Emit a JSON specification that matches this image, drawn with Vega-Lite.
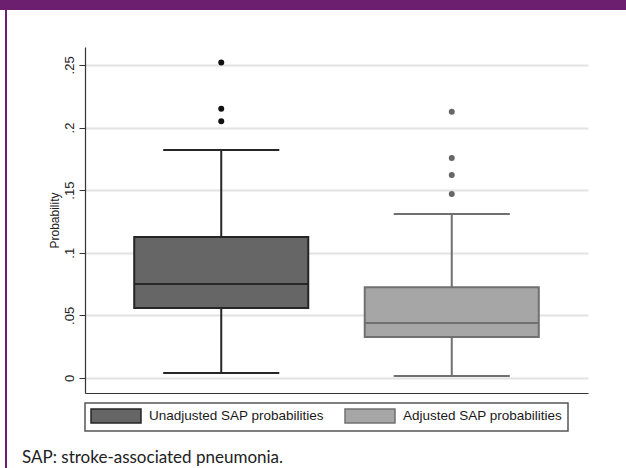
{
  "$schema": "https://vega.github.io/schema/vega-lite/v6.json",
  "padding": 0,
  "background": "white",
  "spacing": 0,
  "config": {
    "view": {"stroke": null},
    "font": "Liberation Sans",
    "legend": {"strokeColor": "#555555", "strokeWidth": 1.5, "padding": 5}
  },
  "title": {"text": "SAP:  stroke-associated pneumonia.", "orient": "bottom", "anchor": "start", "frame": "group", "font": "Lato", "fontSize": 17, "fontWeight": "normal", "color": "#222222", "offset": -18, "dx": 22},
  "datasets": {
    "boxes": [
      {"group": "Unadjusted SAP probabilities", "lower": 0.004, "q1": 0.0559, "median": 0.0751, "q3": 0.1126, "upper": 0.182},
      {"group": "Adjusted SAP probabilities", "lower": 0.0016, "q1": 0.0328, "median": 0.0438, "q3": 0.0725, "upper": 0.131}
    ],
    "outliers": [
      {"group": "Unadjusted SAP probabilities", "value": 0.252},
      {"group": "Unadjusted SAP probabilities", "value": 0.215},
      {"group": "Unadjusted SAP probabilities", "value": 0.205},
      {"group": "Adjusted SAP probabilities", "value": 0.2125},
      {"group": "Adjusted SAP probabilities", "value": 0.1757},
      {"group": "Adjusted SAP probabilities", "value": 0.162},
      {"group": "Adjusted SAP probabilities", "value": 0.147}
    ]
  },
  "resolve": {"scale": {"fill": "independent", "stroke": "independent"}, "legend": {"fill": "independent", "stroke": "independent"}},
  "vconcat": [
    {"width": 626, "height": 10, "view": {"fill": "#6b1f6e", "stroke": null}, "data": {"values": []}, "mark": "point", "encoding": {}},
    {
      "spacing": 0,
      "resolve": {"scale": {"fill": "independent", "stroke": "independent"}, "legend": {"fill": "independent", "stroke": "independent"}},
      "hconcat": [
        {"width": 5, "height": 10, "data": {"values": []}, "mark": "point", "encoding": {}},
        {
          "spacing": 41,
          "resolve": {"scale": {"fill": "independent", "stroke": "independent"}, "legend": {"fill": "independent", "stroke": "independent"}},
          "hconcat": [
            {"width": 2, "height": 458, "view": {"fill": "#6b1f6e", "stroke": null}, "data": {"values": []}, "mark": "point", "encoding": {}},
            {
              "spacing": 0,
              "resolve": {"scale": {"fill": "independent", "stroke": "independent"}, "legend": {"fill": "independent", "stroke": "independent"}},
              "vconcat": [
                {"width": 10, "height": 37, "data": {"values": []}, "mark": "point", "encoding": {}},
                {
                  "width": 503,
                  "height": 346,
                  "encoding": {
                    "x": {
                      "field": "group", "type": "nominal", "sort": null,
                      "scale": {"domain": ["Unadjusted SAP probabilities", "Adjusted SAP probabilities"], "paddingInner": 0.245, "paddingOuter": 0.2135},
                      "axis": {"labels": false, "ticks": false, "title": null, "grid": false, "domainColor": "#333333", "domainWidth": 1.2}
                    }
                  },
                  "layer": [
                    {
                      "data": {"name": "boxes"},
                      "mark": {"type": "rule", "strokeWidth": 2},
                      "encoding": {
                        "y": {
                          "field": "lower", "type": "quantitative",
                          "scale": {"domain": [-0.012, 0.2643], "nice": false, "zero": false},
                          "axis": {
                            "title": "Probability",
                            "values": [0, 0.05, 0.1, 0.15, 0.2, 0.25],
                            "labelExpr": "datum.value == 0 ? '0' : replace(format(datum.value, '.2~f'), '0.', '.')",
                            "labelAngle": -90, "labelAlign": "center", "labelBaseline": "bottom",
                            "labelFontSize": 13, "labelColor": "#222222", "labelPadding": 3,
                            "tickSize": 6, "tickColor": "#333333", "domainColor": "#333333", "domainWidth": 1.2,
                            "grid": true, "gridColor": "#e2e2e2", "gridWidth": 2,
                            "titleFontSize": 12, "titleFontWeight": "normal", "titleColor": "#222222", "titlePadding": 2
                          }
                        },
                        "y2": {"field": "upper"},
                        "stroke": {"field": "group", "type": "nominal", "scale": {"domain": ["Unadjusted SAP probabilities", "Adjusted SAP probabilities"], "range": ["#262626", "#707070"]}}
                      }
                    },
                    {
                      "data": {"name": "boxes"},
                      "mark": {"type": "bar", "strokeWidth": 2},
                      "encoding": {
                        "y": {"field": "q1", "type": "quantitative"},
                        "y2": {"field": "q3"},
                        "fill": {
                          "field": "group", "type": "nominal",
                          "scale": {"domain": ["Unadjusted SAP probabilities", "Adjusted SAP probabilities"], "range": ["#666666", "#a6a6a6"]},
                          "legend": {"title": null, "orient": "bottom", "direction": "horizontal", "offset": 10, "symbolType": "M-1,-1H6.1429V1H-1Z", "symbolSize": 196, "symbolStrokeWidth": 1.5, "labelFont": "Liberation Sans", "labelFontSize": 13.5, "labelColor": "#1a1a1a", "labelOffset": 43, "columnPadding": 18, "labelLimit": 400}
                        },
                        "stroke": {"field": "group", "type": "nominal"}
                      }
                    },
                    {
                      "data": {"name": "boxes"},
                      "mark": {"type": "bar", "strokeWidth": 2, "fillOpacity": 0},
                      "encoding": {
                        "y": {"field": "median", "type": "quantitative"},
                        "y2": {"field": "median"},
                        "stroke": {"field": "group", "type": "nominal"}
                      }
                    },
                    {
                      "data": {"name": "boxes"},
                      "mark": {"type": "bar", "strokeWidth": 2, "fillOpacity": 0, "width": {"band": 0.667}},
                      "encoding": {
                        "y": {"field": "upper", "type": "quantitative"},
                        "y2": {"field": "upper"},
                        "stroke": {"field": "group", "type": "nominal"}
                      }
                    },
                    {
                      "data": {"name": "boxes"},
                      "mark": {"type": "bar", "strokeWidth": 2, "fillOpacity": 0, "width": {"band": 0.667}},
                      "encoding": {
                        "y": {"field": "lower", "type": "quantitative"},
                        "y2": {"field": "lower"},
                        "stroke": {"field": "group", "type": "nominal"}
                      }
                    },
                    {
                      "data": {"name": "outliers"},
                      "mark": {"type": "circle", "size": 36, "opacity": 1},
                      "encoding": {
                        "y": {"field": "value", "type": "quantitative"},
                        "fill": {"condition": {"test": "datum.group === 'Unadjusted SAP probabilities'", "value": "#111111"}, "value": "#666666"}
                      }
                    }
                  ]
                }
              ]
            }
          ]
        }
      ]
    }
  ]
}
